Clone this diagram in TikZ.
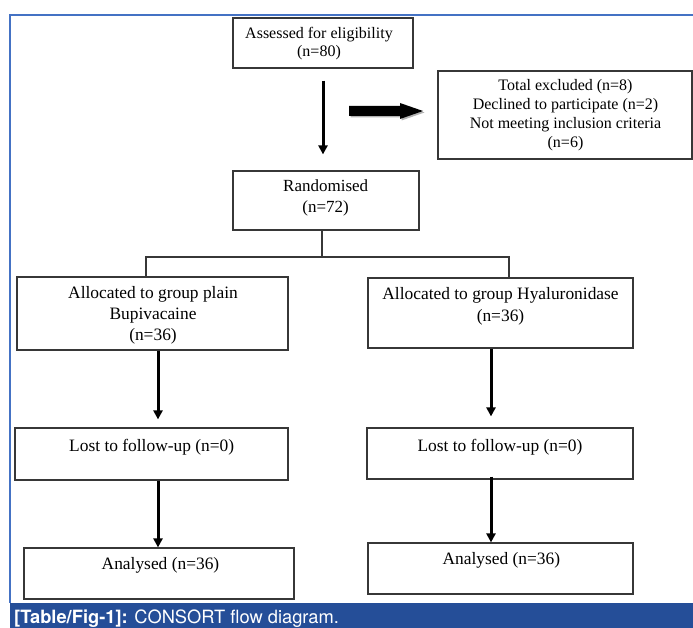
\documentclass[tikz,border=0pt]{standalone}
\usepackage{fontspec}
\setmainfont{Liberation Serif}
\newfontfamily\capfont{TeX Gyre Heros}
\usetikzlibrary{arrows.meta,calc}
\definecolor{frameblue}{RGB}{68,114,196}
\definecolor{barblue}{RGB}{37,78,152}
\definecolor{boxgray}{RGB}{55,55,55}
\tikzset{
  box/.style={draw=boxgray,line width=1.2pt,rectangle,inner sep=0pt},
  txt/.style={align=center,inner sep=0pt},
  thinarrow/.style={line width=3pt,-{Triangle[width=9pt,length=9pt]}},
  split/.style={draw=boxgray,line width=1.2pt},
}
\newcommand{\boxat}[5]{\node[box,minimum width=#4-#2,minimum height=#5-#3] (#1) at ({(#2+#4)/2},{(#3+#5)/2}) {};}
\begin{document}
\begin{tikzpicture}[x=1pt,y=-1pt]
\useasboundingbox (0,0) rectangle (693,628);
% frame and caption
\draw[frameblue,line width=1.5pt] (693,15) -- (10,15) -- (10,603);
\fill[barblue] (10,603) rectangle (693,628);
\node[anchor=base west,inner sep=0pt,text=white,font=\capfont\fontsize{18.3}{20}\selectfont] (cap) at (14,623.5) {\textbf{[Table/Fig-1]:} CONSORT flow diagram.};
% boxes
\boxat{assess}{233}{18}{413}{68}
\boxat{excl}{438}{71}{692}{159}
\boxat{rand}{233}{171}{419}{230}
\boxat{allocL}{17}{277}{288}{350}
\boxat{allocR}{368}{278}{633}{348}
\boxat{lostL}{15}{428}{288}{480}
\boxat{lostR}{367}{428}{633}{479}
\boxat{anaL}{24}{548}{294}{599}
\boxat{anaR}{368}{543}{633}{594}
% texts
\node[txt,font=\fontsize{16}{18}\selectfont] (tA) at (319,44) {Assessed for eligibility\\(n=80)};
\node[txt,font=\fontsize{16}{19}\selectfont] (tE) at (565.5,115.5) {Total excluded (n=8)\\Declined to participate (n=2)\\Not meeting inclusion criteria\\(n=6)};
\node[txt,font=\fontsize{17}{21}\selectfont] (tR) at (325.7,197.5) {Randomised\\(n=72)};
\node[txt,font=\fontsize{17.4}{21}\selectfont] (tAL) at (153,315) {Allocated to group plain\\Bupivacaine\\(n=36)};
\node[txt,font=\fontsize{17.4}{22}\selectfont] (tAR) at (500.5,306) {Allocated to group Hyaluronidase\\(n=36)};
\node[txt,font=\fontsize{17.4}{21}\selectfont] (tLL) at (151.7,447) {Lost to follow-up (n=0)};
\node[txt,font=\fontsize{17.4}{21}\selectfont] (tLR) at (500,447) {Lost to follow-up (n=0)};
\node[txt,font=\fontsize{17.4}{21}\selectfont] (tNL) at (160.5,565) {Analysed (n=36)};
\node[txt,font=\fontsize{17.4}{21}\selectfont] (tNR) at (501.3,560) {Analysed (n=36)};
% main arrow
\coordinate (a1s) at ($(assess.south)+(0,12)$);
\coordinate (a1e) at ($(rand.north)+(-3,-16)$);
\draw[thinarrow] (a1s) -- (a1e);
% block arrow to excluded
\coordinate (ba) at (349,111);
\fill[gray!60] ($(ba)+(1.5,-3.5)$) -- ++(51,0) -- ++(0,-3) -- ++(23,8) -- ++(-23,8) -- ++(0,-3) -- ++(-51,0) -- cycle;
\fill[black] ($(ba)+(0,-5)$) -- ++(51,0) -- ++(0,-3) -- ++(23,8) -- ++(-23,8) -- ++(0,-3) -- ++(-51,0) -- cycle;
% split
\coordinate (sp) at (322,257);
\draw[split] (rand.south -| sp) -- (sp);
\draw[split] (allocL.north -| 146,0) -- (146,257) -- (509,257) -- (allocR.north -| 509,0);
% lower arrows
\draw[thinarrow] (allocL.south -| 158,0) -- ($(lostL.north -| 158,0)+(0,-8)$);
\draw[thinarrow] (lostL.south -| 158,0) -- (anaL.north -| 158,0);
\draw[thinarrow] (allocR.south -| 491,0) -- ($(lostR.north -| 491,0)+(0,-11)$);
\draw[thinarrow] ($(lostR.south -| 491,0)+(0,-3)$) -- (anaR.north -| 491,0);
\end{tikzpicture}
\end{document}
